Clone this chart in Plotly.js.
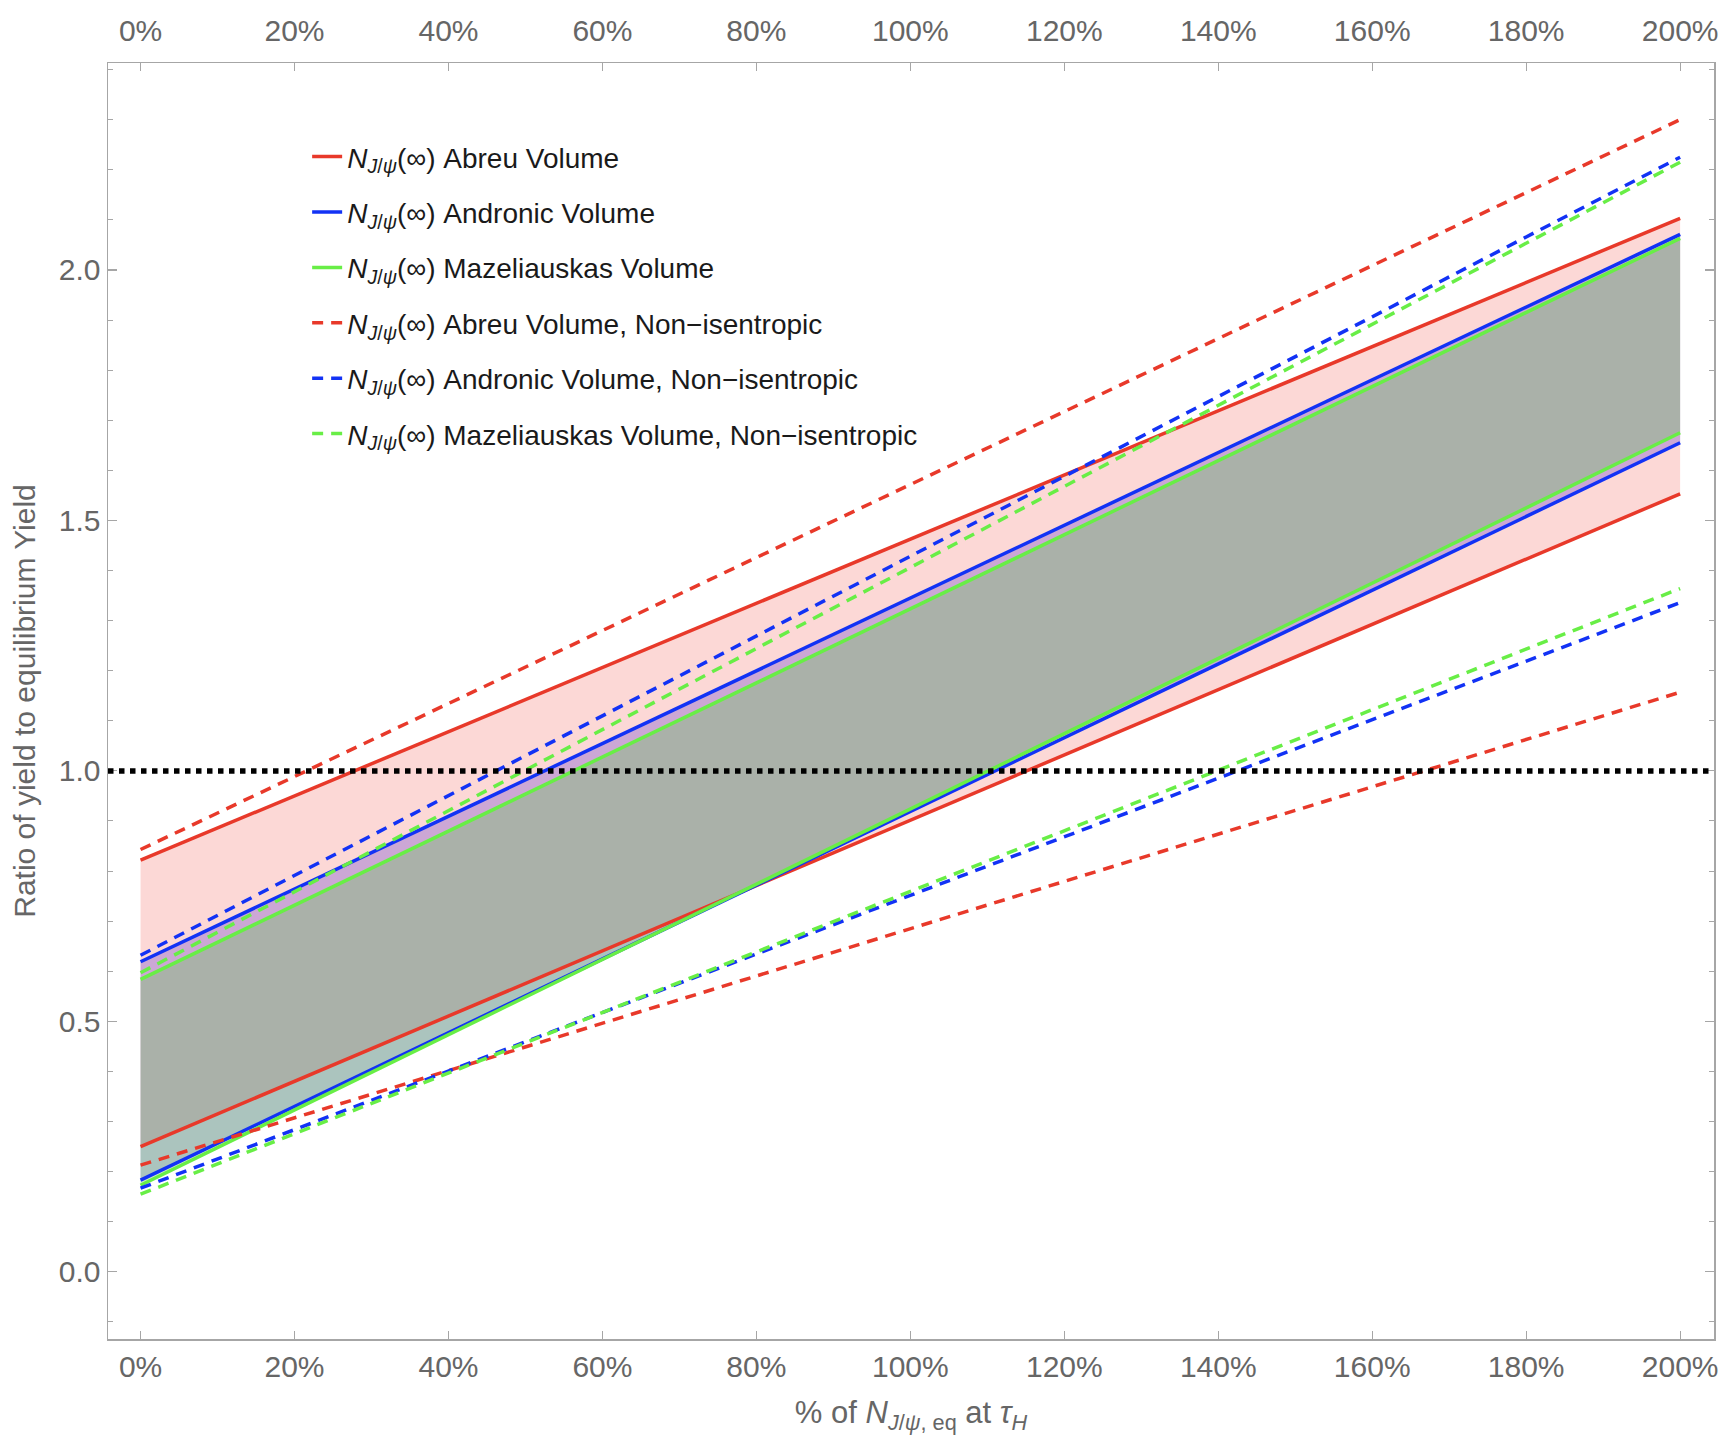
<!DOCTYPE html>
<html>
<head>
<meta charset="utf-8">
<script src="https://cdn.plot.ly/plotly-3.0.1.min.js"></script>
<style>
  html, body { margin: 0; padding: 0; background: #fff; }
  #plot { width: 1734px; height: 1442px; }
</style>
</head>
<body>
<div id="plot"></div>
<script>
// fraction of N_eq at tau_H (0 = 0%, 2 = 200%)
const xFrac = [0, 1, 2];

// solid: isentropic, upper / lower edge of each band
const abreuUp = [0.822, 1.462, 2.103];
const abreuLo = [0.250, 0.902, 1.553];
const andronicUp = [0.619, 1.345, 2.071];
const andronicLo = [0.183, 0.919, 1.655];
const mazUp = [0.584, 1.323, 2.063];
const mazLo = [0.173, 0.924, 1.675];

// dashed: non-isentropic
const abreuUpNI = [0.843, 1.572, 2.300];
const abreuLoNI = [0.213, 0.685, 1.157];
const andronicUpNI = [0.632, 1.428, 2.225];
const andronicLoNI = [0.167, 0.751, 1.336];
const mazUpNI = [0.597, 1.406, 2.215];
const mazLoNI = [0.155, 0.760, 1.364];

const equilibrium = 1.0;

const xTicks = [0, 0.2, 0.4, 0.6, 0.8, 1.0, 1.2, 1.4, 1.6, 1.8, 2.0];
const yTicks = [0, 0.5, 1.0, 1.5, 2.0];

const names = [
  'Abreu Volume',
  'Andronic Volume',
  'Mazeliauskas Volume',
  'Abreu Volume, Non\u2212isentropic',
  'Andronic Volume, Non\u2212isentropic',
  'Mazeliauskas Volume, Non\u2212isentropic'
];

const RED = '#e8392a';
const BLUE = '#1232f5';
const GREEN = '#68ee46';

const prefix = '<i>N</i><sub><i>J</i>/<i>\u03c8</i></sub>(\u221e) ';

function band(up, lo, fillcolor) {
  return [
    { x: xFrac, y: up, mode: 'lines', line: {width: 0}, showlegend: false, hoverinfo: 'skip' },
    { x: xFrac, y: lo, mode: 'lines', line: {width: 0}, fill: 'tonexty', fillcolor: fillcolor,
      showlegend: false, hoverinfo: 'skip' }
  ];
}

function pair(up, lo, color, dash, name, group) {
  const line = { color: color, width: 3.5, dash: dash };
  return [
    { x: xFrac, y: up, mode: 'lines', line: line, name: prefix + name, legendgroup: group },
    { x: xFrac, y: lo, mode: 'lines', line: line, name: prefix + name, legendgroup: group, showlegend: false }
  ];
}

const dashed = '11px,8px';

const traces = [].concat(
  band(abreuUp, abreuLo, 'rgba(240,60,50,0.2)'),
  band(andronicUp, andronicLo, 'rgba(60,20,210,0.25)'),
  band(mazUp, mazLo, 'rgba(107,198,90,0.35)'),
  pair(abreuUp, abreuLo, RED, 'solid', names[0], 'g1'),
  pair(andronicUp, andronicLo, BLUE, 'solid', names[1], 'g2'),
  pair(mazUp, mazLo, GREEN, 'solid', names[2], 'g3'),
  pair(abreuUpNI, abreuLoNI, RED, dashed, names[3], 'g4'),
  pair(andronicUpNI, andronicLoNI, BLUE, dashed, names[4], 'g5'),
  pair(mazUpNI, mazLoNI, GREEN, dashed, names[5], 'g6')
);
// invisible trace so the top axis gets drawn
traces.push({ x: [xFrac[0]], y: [equilibrium], xaxis: 'x2', mode: 'markers',
  marker: {opacity: 0}, showlegend: false, hoverinfo: 'skip' });

const tickFont = { family: 'Liberation Sans, Arial, sans-serif', size: 30, color: '#666666' };
const axisColor = '#a6a6a6';

const xCommon = {
  range: [-0.0423, 2.044],
  tickvals: xTicks,
  tickformat: '.0%',
  ticks: 'inside',
  ticklen: 8,
  tickwidth: 1.2,
  tickcolor: axisColor,
  showline: true,
  linecolor: axisColor,
  linewidth: 1.5,
  showgrid: false,
  zeroline: false,
  tickfont: tickFont
};

const layout = {
  width: 1734,
  height: 1442,
  margin: { l: 108, r: 20, t: 63, b: 103 },
  paper_bgcolor: '#ffffff',
  plot_bgcolor: '#ffffff',
  font: { family: 'Liberation Sans, Arial, sans-serif', color: '#666666' },
  showlegend: true,
  legend: {
    x: 0.124, y: 0.946, xanchor: 'left', yanchor: 'top',
    bgcolor: 'rgba(0,0,0,0)',
    font: { family: 'Liberation Sans, Arial, sans-serif', size: 28, color: '#1a1a1a' },
    traceorder: 'grouped',
    tracegroupgap: 16
  },
  xaxis: Object.assign({}, xCommon, {
    side: 'bottom',
    anchor: 'y',
    title: { text: '% of <i>N</i><sub><i>J</i>/<i>\u03c8</i>, eq</sub> at <i>\u03c4</i><sub><i>H</i></sub>',
      font: { family: 'Liberation Sans, Arial, sans-serif', size: 31, color: '#666666' }, standoff: 20 }
  }),
  xaxis2: Object.assign({}, xCommon, {
    side: 'top',
    anchor: 'y',
    overlaying: 'x',
    matches: 'x',
    ticklabelstandoff: 9
  }),
  yaxis: {
    range: [-0.134, 2.413],
    tickvals: yTicks,
    tickformat: '.1f',
    ticks: 'inside',
    ticklen: 9,
    tickwidth: 1.2,
    tickcolor: axisColor,
    minor: { dtick: 0.1, ticks: 'inside', ticklen: 5, tickwidth: 1, tickcolor: axisColor, showgrid: false },
    showline: true,
    linecolor: axisColor,
    linewidth: 1.5,
    mirror: 'ticks',
    showgrid: false,
    zeroline: false,
    tickfont: tickFont,
    title: { text: 'Ratio of yield to equilibrium Yield',
      font: { family: 'Liberation Sans, Arial, sans-serif', size: 30, color: '#666666' }, standoff: 14 }
  },
  shapes: [{
    type: 'line', xref: 'paper', yref: 'y',
    x0: 0, x1: 1, y0: equilibrium, y1: equilibrium,
    line: { color: '#000000', width: 5.5, dash: '5.5px,5.5px' },
    layer: 'above'
  }]
};

Plotly.newPlot('plot', traces, layout, { displayModeBar: false, staticPlot: true });
</script>
</body>
</html>
